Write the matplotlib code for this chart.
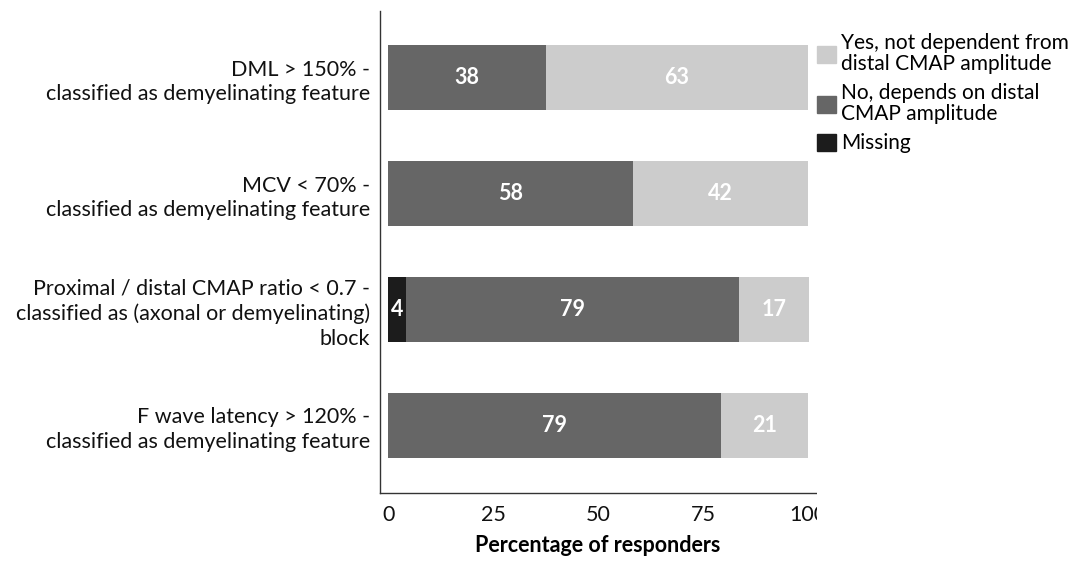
import numpy as np
import matplotlib.pyplot as plt
import matplotlib.patches as patches

plt.rcParams['font.family'] = ['Lato', 'DejaVu Sans']

categorias = ['DML > 150% -\nclassified as demyelinating feature',
              'MCV < 70% -\nclassified as demyelinating feature',
              'Proximal / distal CMAP ratio < 0.7 -\nclassified as (axonal or demyelinating)\nblock',
              'F wave latency > 120% -\nclassified as demyelinating feature']

# porcentajes (n = 24)
missing = [0.0, 0.0, 4.2, 0.0]
no_dep = [37.5, 58.3, 79.2, 79.2]
yes_indep = [62.5, 41.7, 16.7, 20.8]

# etiquetas redondeadas como en la figura
lab_missing = ['', '', '4', '']
lab_no = ['38', '58', '79', '79']
lab_yes = ['63', '42', '17', '21']

series = ['Yes, not dependent from\ndistal CMAP amplitude',
          'No, depends on distal\nCMAP amplitude',
          'Missing']
colores = ['#cccccc', '#666666', '#1c1c1c']

fs = 15.5

fig = plt.figure(figsize=(10.75, 5.68), dpi=100)
ax = fig.add_axes([379.5/1075, 1-492.7/568, (816.7-379.5)/1075, (492.7-11)/568])

y = np.arange(len(categorias))
missing = np.array(missing)
no_dep = np.array(no_dep)
yes_indep = np.array(yes_indep)

b_m = ax.barh(y, missing, height=0.56, color=colores[2])
b_n = ax.barh(y, no_dep, left=missing, height=0.56, color=colores[1])
b_y = ax.barh(y, yes_indep, left=missing+no_dep, height=0.56, color=colores[0])

for barras, labs in [(b_m, lab_missing), (b_n, lab_no), (b_y, lab_yes)]:
    for r, l in zip(barras, labs):
        if l == '':
            continue
        ax.text(r.get_x()+r.get_width()/2, r.get_y()+r.get_height()/2, l,
                ha='center', va='center', color='white', fontsize=fs, fontweight='bold')

ax.set_xlim(-2.1, 102.0)
ax.set_ylim(3.58, -0.575)
ax.set_yticks(y)
ax.set_yticklabels(categorias, fontsize=fs, color='#111111', linespacing=1.3)
ax.set_xticks([0, 25, 50, 75, 100])
ax.set_xticklabels(['0', '25', '50', '75', '100'], fontsize=fs, color='#111111')
ax.tick_params(axis='both', length=0)
ax.tick_params(axis='y', pad=7)
ax.tick_params(axis='x', pad=9)
ax.set_xlabel('Percentage of responders', fontsize=fs, fontweight='bold', labelpad=7)
for s in ['top', 'right']:
    ax.spines[s].set_visible(False)
for s in ['left', 'bottom']:
    ax.spines[s].set_color('#333333')
    ax.spines[s].set_linewidth(1.0)

# tapa blanca donde va la leyenda (corta el "100")
tapa = patches.Rectangle((816.7/1075, 0), 1, 1, transform=fig.transFigure,
                         facecolor='white', edgecolor='none', zorder=5)
fig.add_artist(tapa)

handles = [patches.Patch(color=c) for c in colores]
leg = fig.legend(handles, series, loc='upper left', bbox_to_anchor=(816.7/1075, 1-33/568),
                 frameon=False, fontsize=15, handlelength=0.95, handleheight=0.9,
                 handletextpad=0.2, labelspacing=0.45, borderaxespad=0, borderpad=0)
for t in leg.get_texts():
    t.set_linespacing(1.05)
leg.set_zorder(6)

plt.savefig('out.png', dpi=100)
